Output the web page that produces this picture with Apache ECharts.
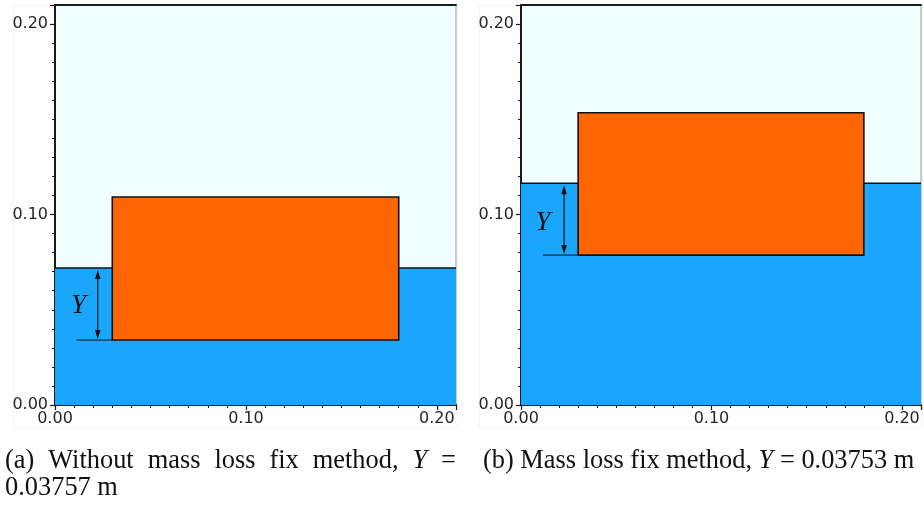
<!DOCTYPE html>
<html><head><meta charset="utf-8">
<script src="https://cdn.jsdelivr.net/npm/echarts@6/dist/echarts.min.js"></script>
<style>html,body{margin:0;padding:0;background:#fff}#c{width:924px;height:506px}</style>
</head><body><div id="c"></div>
<script>
// ---- data ----
const axisMin = 0, axisMax = 0.21, axisStep = 0.1;
const panelIds = ['a', 'b'];
const waterLevel = [0.0719, 0.1164];
const boxLeft = [0.030, 0.030];
const boxRight = [0.180, 0.180];
const boxBottom = [0.0341, 0.0787];
const boxTop = [0.1092, 0.1534];
const arrowX = [0.0224, 0.0226];
const refLineStart = [0.0113, 0.0115];
const yLabelPos = [[0.0123, 0.052], [0.0115, 0.0955]];
const captionA1 = ['(a)', 'Without', 'mass', 'loss', 'fix', 'method,', 'Y', '='];
const captionA2 = '0.03757 m';
const captionB = '(b) Mass loss fix method, {i|Y} = 0.03753 m';

const chart = echarts.init(document.getElementById('c'), null, {renderer: 'canvas'});
const grids = [
  {left: 55, top: 5, width: 401, height: 400},
  {left: 521, top: 5, width: 400, height: 400}
];
const fmt = v => v.toFixed(2);
const labelFont = {color: '#262626', fontFamily: 'DejaVu Sans', fontSize: 16};
const xAxes = [], yAxes = [], series = [];
grids.forEach((g, i) => {
  Object.assign(g, {show: true, backgroundColor: '#f0ffff', borderColor: '#9a9a9a', borderWidth: 1, containLabel: false});
  xAxes.push({
    type: 'value', gridIndex: i, min: axisMin, max: axisMax, interval: axisStep, position: 'bottom',
    axisLine: {show: true, onZero: false, lineStyle: {color: '#1a1a1a', width: 2}},
    axisTick: {show: true, length: 5, lineStyle: {color: '#1a1a1a', width: 1.2}},
    minorTick: {show: true, splitNumber: 10, length: 3, lineStyle: {color: '#1a1a1a', width: 1}},
    splitLine: {show: false},
    axisLabel: Object.assign({formatter: fmt, margin: 6, showMaxLabel: false}, labelFont)
  });
  xAxes.push({
    type: 'value', gridIndex: i, min: axisMin, max: axisMax, position: 'top',
    axisLine: {show: true, onZero: false, lineStyle: {color: '#1a1a1a', width: 2}},
    axisTick: {show: false}, axisLabel: {show: false}, splitLine: {show: false}
  });
  yAxes.push({
    type: 'value', gridIndex: i, min: axisMin, max: axisMax, interval: axisStep,
    axisLine: {show: true, onZero: false, lineStyle: {color: '#1a1a1a', width: 2}},
    axisTick: {show: true, length: 5, lineStyle: {color: '#1a1a1a', width: 1.2}},
    minorTick: {show: true, splitNumber: 10, length: 3, lineStyle: {color: '#1a1a1a', width: 1}},
    splitLine: {show: false},
    axisLabel: Object.assign({formatter: fmt, margin: 7, showMaxLabel: false}, labelFont)
  });
  const xi = i * 2, yi = i;
  // water body
  series.push({
    type: 'custom', xAxisIndex: xi, yAxisIndex: yi, silent: true, clip: true, z: 2,
    data: [[axisMin, axisMin, axisMax, waterLevel[i]]],
    renderItem: (p, api) => {
      const a = api.coord([api.value(0), api.value(3)]);
      const b = api.coord([api.value(2), api.value(1)]);
      return {type: 'group', children: [
        {type: 'rect', shape: {x: a[0], y: a[1], width: b[0] - a[0], height: b[1] - a[1]}, style: {fill: '#19a6fc'}},
        {type: 'line', shape: {x1: a[0], y1: a[1], x2: b[0], y2: a[1]}, style: {stroke: '#111', lineWidth: 1.5}}
      ]};
    }
  });
  // floating box
  series.push({
    type: 'custom', xAxisIndex: xi, yAxisIndex: yi, silent: true, z: 3,
    data: [[boxLeft[i], boxBottom[i], boxRight[i], boxTop[i]]],
    renderItem: (p, api) => {
      const a = api.coord([api.value(0), api.value(3)]);
      const b = api.coord([api.value(2), api.value(1)]);
      return {type: 'rect', shape: {x: a[0], y: a[1], width: b[0] - a[0], height: b[1] - a[1]},
        style: {fill: '#ff6600', stroke: '#111', lineWidth: 1.6}};
    }
  });
  // Y annotation (double arrow + reference line)
  series.push({
    type: 'custom', xAxisIndex: xi, yAxisIndex: yi, silent: true, z: 4,
    data: [[arrowX[i], boxBottom[i], waterLevel[i], refLineStart[i], boxLeft[i]]],
    renderItem: (p, api) => {
      const bot = api.coord([api.value(0), api.value(1)]);
      const top = api.coord([api.value(0), api.value(2)]);
      const r0 = api.coord([api.value(3), api.value(1)]);
      const r1 = api.coord([api.value(4), api.value(1)]);
      const x = bot[0], yt = top[1] + 2, yb = bot[1] - 1, hw = 2.8, hh = 9;
      return {type: 'group', children: [
        {type: 'line', shape: {x1: r0[0], y1: r0[1], x2: r1[0], y2: r1[1]}, style: {stroke: '#111', lineWidth: 1}},
        {type: 'line', shape: {x1: x, y1: yt + 4, x2: x, y2: yb - 4}, style: {stroke: '#111', lineWidth: 1.2}},
        {type: 'polygon', shape: {points: [[x, yt], [x - hw, yt + hh], [x + hw, yt + hh]]}, style: {fill: '#111'}},
        {type: 'polygon', shape: {points: [[x, yb], [x - hw, yb - hh], [x + hw, yb - hh]]}, style: {fill: '#111'}}
      ]};
    }
  });
  // Y label
  series.push({
    type: 'custom', xAxisIndex: xi, yAxisIndex: yi, silent: true, z: 5,
    data: [yLabelPos[i]],
    renderItem: (p, api) => {
      const c = api.coord([api.value(0), api.value(1)]);
      return {type: 'text', x: c[0], y: c[1], style: {text: 'Y', fill: '#111', font: 'italic 27px "Liberation Serif"', align: 'center', verticalAlign: 'middle'}};
    }
  });
});

// captions
const capSize = 26.4;
const capFont = capSize + 'px "Liberation Serif"';
const capItalic = 'italic ' + capFont;
const mctx = document.createElement('canvas').getContext('2d');
const widths = captionA1.map(w => { mctx.font = w === 'Y' ? capItalic : capFont; return mctx.measureText(w).width; });
const lineStart = 5, lineEnd = 456;
const gap = (lineEnd - lineStart - widths.reduce((s, v) => s + v, 0)) / (captionA1.length - 1);
const graphics = [];
let cx = lineStart;
captionA1.forEach((w, k) => {
  graphics.push({type: 'text', x: cx, y: 461, style: {text: w, fill: '#111', font: w === 'Y' ? capItalic : capFont,
    textAlign: 'left', textVerticalAlign: 'middle'}});
  cx += widths[k] + gap;
});
graphics.push({type: 'text', x: 5, y: 488, style: {text: captionA2, fill: '#111', font: capFont, textAlign: 'left', textVerticalAlign: 'middle'}});
graphics.push({type: 'text', x: 483, y: 461, style: {text: captionB, fill: '#111', font: capFont, textAlign: 'left', textVerticalAlign: 'middle',
  rich: {i: {fontStyle: 'italic', fontFamily: 'Liberation Serif', fontSize: capSize, fill: '#111'}}}});
// faint figure frames
graphics.push({type: 'rect', shape: {x: 13.5, y: 5.5, width: 444, height: 422}, style: {fill: 'none', stroke: '#f7f5ee', lineWidth: 1}, z: -10});
graphics.push({type: 'rect', shape: {x: 479.5, y: 5.5, width: 443, height: 422}, style: {fill: 'none', stroke: '#f7f5ee', lineWidth: 1}, z: -10});

chart.setOption({
  animation: false,
  backgroundColor: '#ffffff',
  grid: grids,
  xAxis: xAxes,
  yAxis: yAxes,
  series: series,
  graphic: graphics
});
</script></body></html>
